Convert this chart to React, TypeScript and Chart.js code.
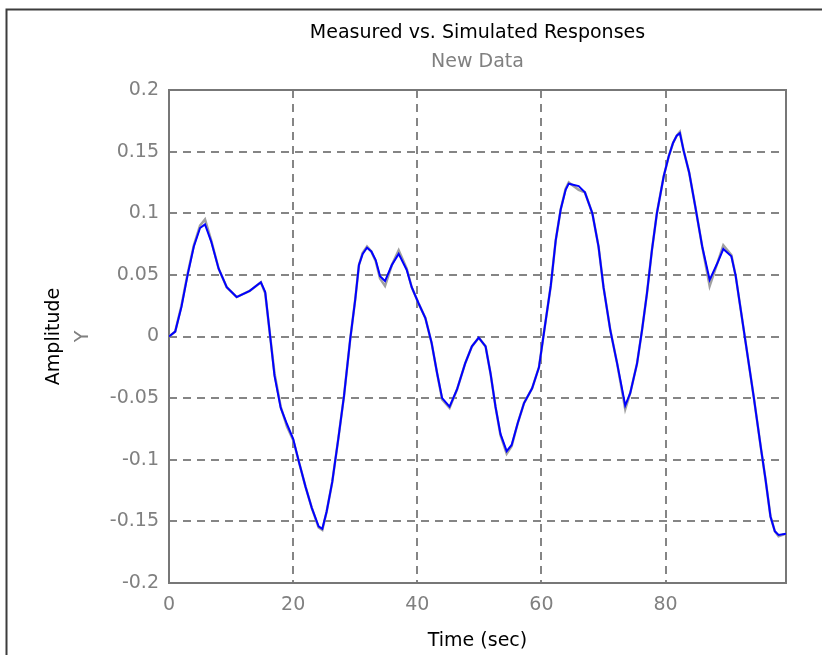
import React, { useEffect, useRef } from 'react';
import { Chart, registerables } from 'chart.js';

Chart.register(...registerables);

// ---- data ----
const TIME = [
  0, 1, 2, 3, 4, 5, 5.8, 6.8, 8, 9.3, 10.9, 13, 14.8, 15.5, 16.3, 17, 18, 19, 20, 21,
  22, 23, 24.1, 24.7, 25.4, 26.3, 27.3, 28.2, 29.2, 30, 30.6, 31.2, 31.9, 32.6, 33.3, 34, 34.8, 35.9, 37, 38.3,
  39.1, 40.2, 41.3, 42.3, 43.2, 44, 45.2, 46.4, 47.7, 48.8, 49.9, 51, 51.8, 52.6, 53.4, 54.4, 55.2, 56.2, 57.2, 58.5,
  59.6, 60.4, 61.5, 62.3, 63.1, 63.9, 64.4, 66, 67, 68.2, 69.2, 70, 71.1, 72.2, 73.5, 74.3, 75.4, 76.2, 77, 77.8,
  78.6, 79.7, 80.5, 81.2, 81.8, 82.3, 82.9, 83.8, 84.8, 85.9, 87.1, 88.3, 89.3, 90.6, 91.3, 92.1, 92.9, 94.2, 95.4, 96.1,
  96.9, 97.6, 98.2, 99.4,
];

const SIMULATED = [
  0, 0.004, 0.024, 0.05, 0.073, 0.088, 0.091, 0.077, 0.055, 0.04, 0.032, 0.037, 0.044, 0.036, 0.0, -0.032, -0.058, -0.071, -0.083, -0.103,
  -0.122, -0.139, -0.154, -0.156, -0.142, -0.118, -0.082, -0.048, -0.002, 0.03, 0.058, 0.067, 0.072, 0.069, 0.062, 0.049, 0.045, 0.058, 0.067, 0.054,
  0.04, 0.027, 0.015, -0.005, -0.03, -0.05, -0.057, -0.043, -0.022, -0.008, -0.001, -0.008, -0.03, -0.057, -0.079, -0.093, -0.088, -0.07, -0.054, -0.042,
  -0.025, 0.003, 0.041, 0.078, 0.103, 0.119, 0.124, 0.122, 0.117, 0.1, 0.073, 0.04, 0.005, -0.022, -0.056, -0.046, -0.022, 0.005, 0.035, 0.07,
  0.1, 0.13, 0.146, 0.157, 0.163, 0.165, 0.151, 0.133, 0.105, 0.073, 0.046, 0.059, 0.071, 0.065, 0.049, 0.022, -0.005, -0.049, -0.092, -0.116,
  -0.146, -0.158, -0.161, -0.16,
];

const MEASURED = [
  0, 0.004, 0.025, 0.051, 0.074, 0.09, 0.095, 0.078, 0.055, 0.04, 0.032, 0.037, 0.044, 0.035, 0.0, -0.03, -0.057, -0.073, -0.084, -0.103,
  -0.122, -0.139, -0.155, -0.157, -0.142, -0.118, -0.082, -0.048, -0.002, 0.03, 0.058, 0.068, 0.073, 0.069, 0.061, 0.047, 0.041, 0.058, 0.07, 0.055,
  0.04, 0.027, 0.015, -0.005, -0.03, -0.051, -0.058, -0.043, -0.022, -0.008, -0.001, -0.008, -0.03, -0.057, -0.08, -0.095, -0.089, -0.07, -0.054, -0.042,
  -0.025, 0.003, 0.041, 0.078, 0.103, 0.12, 0.125, 0.119, 0.117, 0.1, 0.073, 0.04, 0.005, -0.022, -0.059, -0.046, -0.022, 0.005, 0.035, 0.07,
  0.1, 0.13, 0.146, 0.157, 0.163, 0.166, 0.151, 0.133, 0.105, 0.073, 0.041, 0.059, 0.074, 0.066, 0.049, 0.022, -0.005, -0.049, -0.092, -0.116,
  -0.146, -0.158, -0.162, -0.16,
];

const X_MIN = 0;
const X_MAX = 99.4;
const X_STEP = 20;
const Y_MIN = -0.2;
const Y_MAX = 0.2;
const Y_STEP = 0.05;

const TITLE = 'Measured vs. Simulated Responses';
const SUBTITLE = 'New Data';
const X_LABEL = 'Time (sec)';
const Y_LABEL = 'Amplitude';
const Y_NAME = 'Y';

const FONT_FAMILY = "'DejaVu Sans', 'Liberation Sans', Arial, sans-serif";
const GRAY = '#808080';
const GRID = '#858585';

const boxPlugin = {
  id: 'matlabBox',
  beforeDraw(chart: any) {
    const ctx = chart.ctx;
    ctx.save();
    ctx.fillStyle = '#ffffff';
    ctx.fillRect(0, 0, chart.width, chart.height);
    ctx.strokeStyle = '#3c3c3c';
    ctx.lineWidth = 2;
    ctx.beginPath();
    ctx.moveTo(6.5, chart.height);
    ctx.lineTo(6.5, 9.5);
    ctx.lineTo(chart.width, 9.5);
    ctx.stroke();
    ctx.restore();
  },
  beforeDatasetsDraw(chart: any) {
    const { left, top, right, bottom } = chart.chartArea;
    const ctx = chart.ctx;
    ctx.save();
    ctx.strokeStyle = '#777777';
    ctx.lineWidth = 2;
    ctx.strokeRect(left, top, right - left, bottom - top);
    ctx.restore();
  },
};

export default function App() {
  const canvasRef = useRef<HTMLCanvasElement | null>(null);

  useEffect(() => {
    if (!canvasRef.current) return;
    const font = { family: FONT_FAMILY, size: 19, weight: 'normal' };
    const chart = new Chart(canvasRef.current, {
      type: 'line',
      data: {
        datasets: [
          {
            label: 'Simulated',
            data: TIME.map((t, i) => ({ x: t, y: SIMULATED[i] })),
            borderColor: '#0000ff',
            borderWidth: 2,
            pointRadius: 0,
            tension: 0,
            fill: false,
          },
          {
            label: 'Measured',
            data: TIME.map((t, i) => ({ x: t, y: MEASURED[i] })),
            borderColor: '#a0a0a0',
            borderWidth: 2.5,
            pointRadius: 0,
            tension: 0,
            fill: false,
          },
        ],
      },
      options: {
        responsive: false,
        animation: false,
        devicePixelRatio: 1,
        layout: { padding: { left: 0, right: 36, top: 0, bottom: 0 } },
        plugins: {
          legend: { display: false },
          tooltip: { enabled: false },
          title: {
            display: true,
            text: TITLE,
            color: '#000000',
            font,
            fullSize: false,
            padding: { top: 22, bottom: 0 },
          },
          subtitle: {
            display: true,
            text: SUBTITLE,
            color: GRAY,
            font,
            fullSize: false,
            padding: { top: 5.8, bottom: 16.6 },
          },
        },
        scales: {
          x: {
            type: 'linear',
            position: 'bottom',
            min: X_MIN,
            max: X_MAX,
            afterFit: (s: any) => { s.height = 72; },
            ticks: {
              stepSize: X_STEP,
              includeBounds: false,
              color: GRAY,
              font,
              padding: 11,
              maxRotation: 0,
              autoSkip: false,
            },
            grid: { color: GRID, lineWidth: 2, drawTicks: false },
            border: { display: false, dash: [8, 6] },
            title: { display: true, text: X_LABEL, color: '#000000', font, padding: { top: 0, bottom: 3 } },
          },
          y: {
            type: 'linear',
            position: 'left',
            weight: 0,
            min: Y_MIN,
            max: Y_MAX,
            afterFit: (s: any) => { s.width = 99; },
            ticks: {
              stepSize: Y_STEP,
              includeBounds: false,
              color: GRAY,
              font,
              padding: 10,
              autoSkip: false,
              callback: (v: any) => String(Number(Number(v).toFixed(2))),
            },
            grid: { color: GRID, lineWidth: 2, drawTicks: false },
            border: { display: false, dash: [8, 6] },
            title: { display: true, text: Y_NAME, color: GRAY, font, padding: { top: 1.5, bottom: 0 } },
          },
          yName: {
            type: 'linear',
            position: 'left',
            weight: 1,
            min: Y_MIN,
            max: Y_MAX,
            afterFit: (s: any) => { s.width = 70; },
            ticks: { display: false },
            grid: { display: false, drawTicks: false },
            border: { display: false },
            title: { display: true, text: Y_LABEL, color: '#000000', font, padding: { top: 43, bottom: 0 } },
          },
        },
      },
      plugins: [boxPlugin],
    } as any);
    return () => chart.destroy();
  }, []);

  return (
    <div style={{ position: 'fixed', left: 0, top: 0, width: 822, height: 655, background: '#ffffff' }}>
      <canvas ref={canvasRef} width={822} height={655} style={{ display: 'block' }} />
    </div>
  );
}
